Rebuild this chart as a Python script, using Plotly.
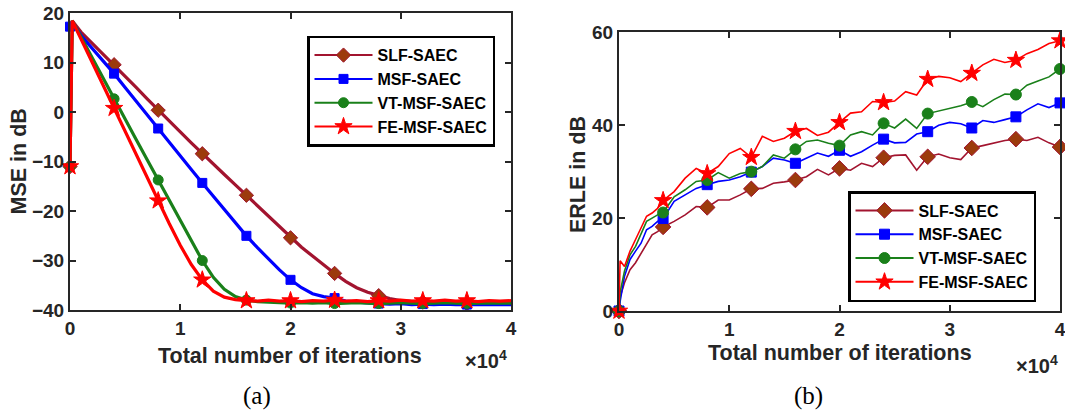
import plotly.graph_objects as go

W, H = 1065, 412

names = ["SLF-SAEC", "MSF-SAEC", "VT-MSF-SAEC", "FE-MSF-SAEC"]
line_colors = ["#A2142F", "#0000FF", "#1A801A", "#FF0000"]
marker_fill = ["#9C3A0C", "#0000FF", "#1A801A", "#FF0000"]
symbols = ["diamond", "square", "circle", "star"]

# ---- (a) MSE in dB vs iterations ----
mse_iter = [0, 200] + list(range(1000, 40001, 1000))
mse_slf = [-11.0, 18.5, 16.2, 14.0, 11.8, 9.6, 7.3, 5.0, 2.7, 0.4, -1.8, -4.0, -6.2, -8.4,
           -10.5, -12.6, -14.7, -16.8, -18.9, -21.0, -23.2, -25.4, -27.3, -29.1, -30.9,
           -32.6, -34.2, -35.5, -36.4, -37.1, -37.7, -38.1, -38.3, -38.4, -38.6, -38.4,
           -38.5, -38.7, -38.5, -38.6, -38.5, -38.6]
mse_msf = [17.3, 18.3, 15.5, 13.0, 10.4, 7.8, 5.0, 2.2, -0.6, -3.3, -6.0, -8.8, -11.6, -14.3,
           -17.0, -19.7, -22.4, -25.0, -27.4, -29.7, -31.9, -33.9, -35.5, -36.7, -37.3,
           -37.6, -38.2, -38.4, -38.6, -38.7, -38.8, -38.7, -38.9, -38.8, -38.9, -38.8,
           -38.9, -38.9, -38.8, -38.9, -38.8, -38.9]
mse_vt = [-11.0, 18.5, 15.2, 11.0, 6.9, 2.7, -1.4, -5.5, -9.6, -13.7, -17.8, -22.0, -26.2,
          -30.0, -33.4, -35.8, -37.3, -38.0, -38.3, -38.4, -38.5, -38.6, -38.5, -38.6,
          -38.5, -38.7, -38.6, -38.5, -38.6, -38.7, -38.6, -38.5, -38.6, -38.7, -38.6,
          -38.5, -38.6, -38.7, -38.6, -38.6, -38.5, -38.6]
mse_fe = [-11.0, 18.5, 14.8, 10.1, 5.5, 0.8, -3.9, -8.6, -13.3, -17.9, -22.5, -26.9, -30.8,
          -33.9, -36.2, -37.4, -37.9, -38.1, -38.2, -38.0, -38.2, -38.1, -38.3, -38.1,
          -38.2, -38.0, -38.2, -38.1, -38.3, -38.1, -38.2, -38.0, -38.2, -38.1, -38.2,
          -38.0, -38.2, -38.1, -38.3, -38.1, -38.2, -38.1]

# ---- (b) ERLE in dB vs iterations ----
erle_iter = [0, 100, 500, 1000, 1500, 2000, 2500, 3000, 3500, 4000] + list(range(5000, 40001, 1000))
erle_slf = [0.0, 3.0, 6.1, 8.9, 10.4, 12.5, 14.6, 16.4, 17.1, 18.1,
            19.3, 20.7, 22.5, 22.3, 23.9, 23.9, 25.0, 26.3, 26.4, 27.5, 27.8, 28.2, 28.9,
            30.5, 29.3, 30.7, 30.3, 31.8, 31.1, 33.0, 33.5, 33.6, 30.3, 33.2, 33.8, 33.0,
            32.6, 35.1, 35.6, 36.2, 36.7, 37.0, 36.7, 37.4, 36.2, 35.3]
erle_msf = [0.0, 2.0, 7.5, 11.1, 12.9, 14.6, 17.5, 18.2, 19.3, 19.9,
            23.6, 25.0, 26.4, 27.2, 27.9, 28.2, 28.9, 29.9, 31.1, 32.9, 32.5, 31.8, 32.9,
            34.0, 33.3, 34.6, 33.3, 34.3, 35.7, 37.0, 36.2, 36.3, 38.1, 38.6, 40.0, 40.6,
            40.3, 39.4, 41.0, 40.6, 41.2, 41.8, 43.3, 44.6, 43.8, 44.8]
erle_vt = [0.0, 4.0, 8.6, 12.1, 13.9, 16.8, 19.3, 20.0, 20.7, 21.2,
           24.6, 26.1, 27.9, 28.2, 29.8, 28.6, 29.6, 30.0, 31.1, 33.6, 32.9, 34.8, 36.5,
           36.8, 36.1, 35.6, 37.9, 38.6, 37.9, 40.4, 39.4, 41.3, 39.3, 42.5, 43.1, 43.6,
           44.2, 45.0, 44.0, 45.5, 46.7, 46.6, 48.6, 49.5, 50.4, 52.1]
erle_fe = [0.0, 10.8, 9.6, 12.9, 15.4, 17.9, 20.4, 21.1, 22.1, 23.8,
           25.7, 28.6, 30.7, 29.6, 31.1, 33.9, 35.0, 33.1, 37.6, 36.5, 37.2, 38.7, 39.3,
           37.8, 38.5, 40.6, 42.6, 42.9, 45.1, 44.9, 45.2, 47.2, 46.5, 49.9, 50.5, 50.2,
           49.4, 51.2, 53.0, 54.2, 53.5, 54.0, 55.4, 56.3, 57.6, 58.2]

x_ticks = [0, 10000, 20000, 30000, 40000]
x_ticktext = ["0", "1", "2", "3", "4"]

FONT = "Liberation Sans, Arial, sans-serif"
AX = "#262626"


def px(x, y):
    return x / W, 1 - y / H


fig = go.Figure()


def add_panel(xs, series, xa, ya, legend, lw, msizes, last_marker):
    # markers every 4000 iterations
    idx = [i for i, v in enumerate(xs) if v % 4000 == 0 and (v < 40000 or last_marker)]
    for k, ys in enumerate(series):
        fig.add_trace(go.Scatter(
            x=xs, y=ys, mode="lines", xaxis=xa, yaxis=ya, showlegend=False,
            line=dict(color=line_colors[k], width=lw), cliponaxis=False, hoverinfo="skip"))
        fig.add_trace(go.Scatter(
            x=[xs[i] for i in idx], y=[ys[i] for i in idx], mode="markers",
            xaxis=xa, yaxis=ya, showlegend=False, cliponaxis=False,
            marker=dict(symbol=symbols[k], size=msizes[k], color=marker_fill[k],
                        line=dict(color=line_colors[k], width=1))))
    for k in range(4):
        fig.add_trace(go.Scatter(
            x=[None], y=[None], mode="lines+markers", xaxis=xa, yaxis=ya,
            name=names[k], legend=legend,
            line=dict(color=line_colors[k], width=2),
            marker=dict(symbol=symbols[k], size=msizes[k], color=marker_fill[k],
                        line=dict(color=line_colors[k], width=1))))


add_panel(mse_iter, [mse_slf, mse_msf, mse_vt, mse_fe], "x", "y", "legend", 3.2,
          [11, 9, 10, 13], False)
add_panel(erle_iter, [erle_slf, erle_msf, erle_vt, erle_fe], "x2", "y2", "legend2", 1.6,
          [12, 10, 11, 13], True)

axis_common = dict(
    showline=True, linewidth=2, linecolor=AX, mirror="ticks",
    ticks="inside", ticklen=6, tickwidth=2, tickcolor=AX,
    showgrid=False, zeroline=False, automargin=False, ticklabeloverflow="allow",
    tickfont=dict(family=FONT, size=19, color=AX, weight="bold"),
)

legend_common = dict(
    xanchor="left", yanchor="top", bgcolor="white", bordercolor="black",
    borderwidth=2.5, itemwidth=58, tracegroupgap=0,
    font=dict(family=FONT, size=16, color="black", weight="bold"),
)

fig.update_layout(
    width=W, height=H,
    margin=dict(l=0, r=0, t=0, b=0, autoexpand=False),
    paper_bgcolor="white", plot_bgcolor="white",
    xaxis=dict(domain=[70 / W, 511 / W], range=[0, 40000], tickvals=x_ticks,
               ticktext=x_ticktext, anchor="y", **axis_common),
    yaxis=dict(domain=[1 - 310 / H, 1 - 13.3 / H], range=[-40, 20], dtick=10,
               anchor="x", **axis_common),
    xaxis2=dict(domain=[619 / W, 1060 / W], range=[0, 40000], tickvals=x_ticks,
                ticktext=x_ticktext, anchor="y2", **axis_common),
    yaxis2=dict(domain=[1 - 311 / H, 1 - 32.3 / H], range=[0, 60], dtick=20,
                anchor="x2", **axis_common),
    legend=dict(x=307 / W, y=1 - 35.7 / H, **legend_common),
    legend2=dict(x=848 / W, y=1 - 191 / H, **legend_common),
)

title_font = dict(family=FONT, size=21.5, color=AX, weight="bold")
exp_font = dict(family=FONT, size=20, color=AX, weight="bold")
serif = dict(family="Liberation Serif, Times New Roman, serif", size=25, color="black")
notes = [
    ("MSE in dB", 18.5, 162, -90, title_font),
    ("ERLE in dB", 578, 175, -90, title_font),
    ("Total number of iterations", 290, 356, 0, title_font),
    ("Total number of iterations", 840, 353, 0, title_font),
    ("×10<sup>4</sup>", 486, 359, 0, exp_font),
    ("×10<sup>4</sup>", 1037, 364, 0, exp_font),
    ("(a)", 257, 396, 0, serif),
    ("(b)", 808, 396, 0, serif),
]
for text, x, y, ang, f in notes:
    ax_, ay_ = px(x, y)
    fig.add_annotation(text=text, x=ax_, y=ay_, xref="paper", yref="paper",
                       xanchor="center", yanchor="middle", showarrow=False,
                       textangle=ang, font=f)

# the page body has a default 8px margin; drop it so the figure sits at (0, 0)
fig.write_html("out.html", config={"displayModeBar": False},
               post_script="document.body.style.margin='0';")
